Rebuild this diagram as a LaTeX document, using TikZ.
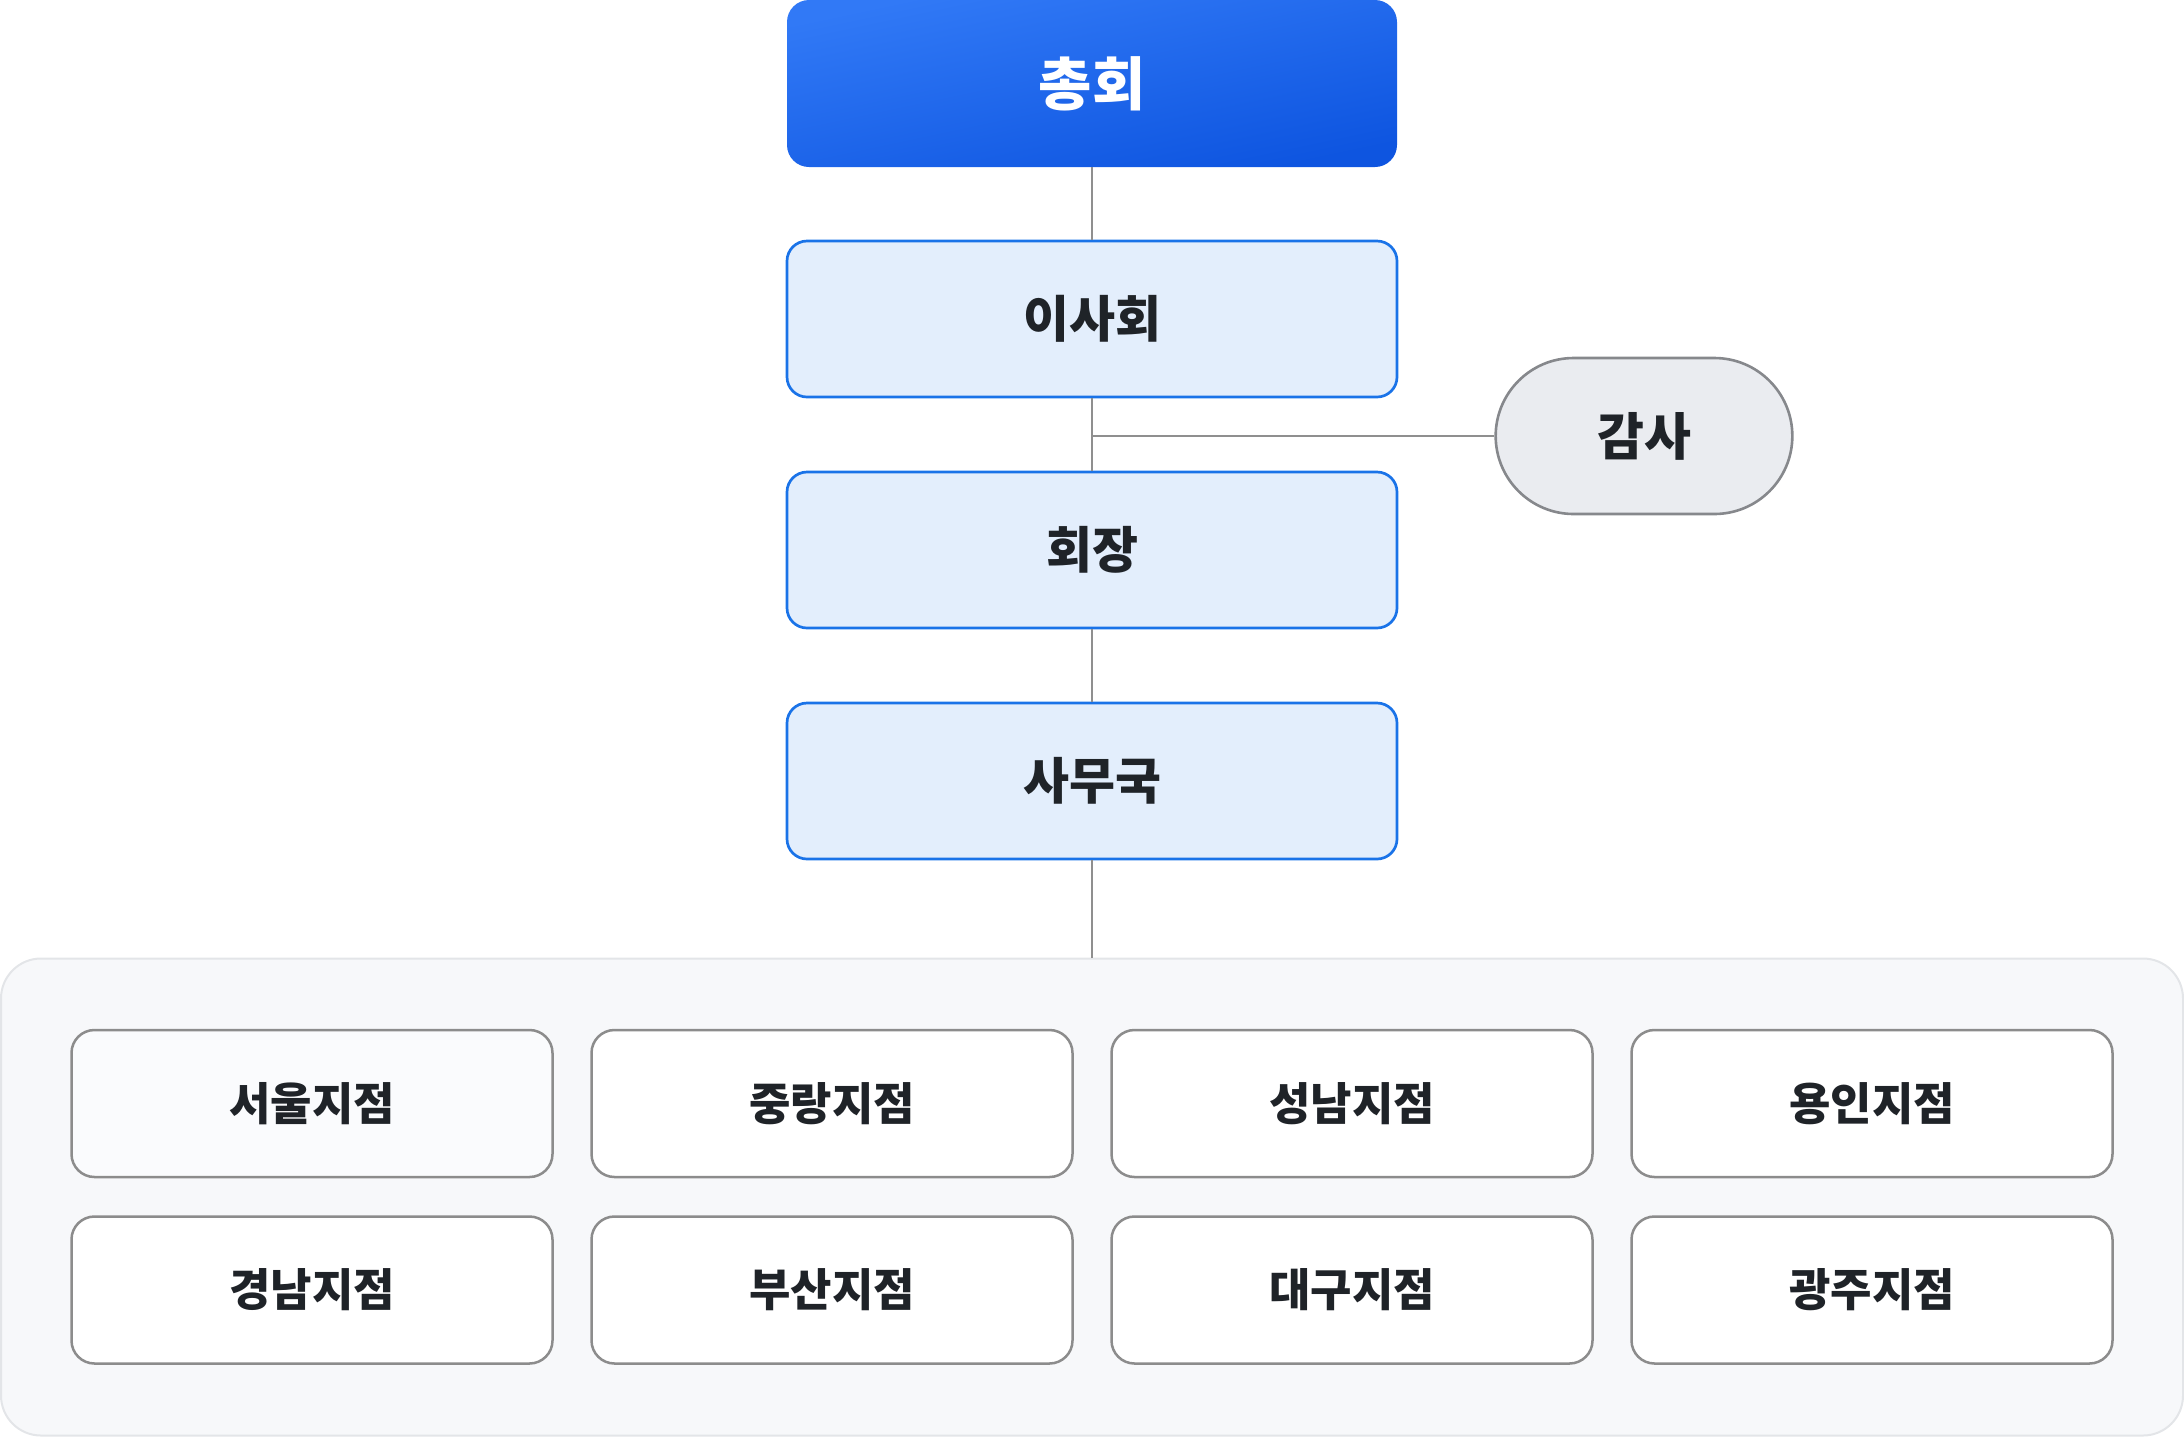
\documentclass[tikz,border=0pt]{standalone}
\usepackage{fontspec}
\setmainfont{Noto Sans CJK KR}
\usetikzlibrary{shapes.misc}

\definecolor{topblue}{HTML}{3179F6}
\definecolor{deepblue}{HTML}{0E55E0}
\definecolor{orgfill}{HTML}{E3EEFC}
\definecolor{orgline}{HTML}{1A73E8}
\definecolor{auditfill}{HTML}{EAECF0}
\definecolor{auditline}{HTML}{86888C}
\definecolor{panelfill}{HTML}{F7F8FA}
\definecolor{panelline}{HTML}{E3E5E8}
\definecolor{branchline}{HTML}{8C8C8C}
\definecolor{seoulfill}{HTML}{FAFBFD}
\definecolor{linegray}{HTML}{8F8F8F}
\definecolor{inkdark}{HTML}{1F2328}

\begin{document}
\begin{tikzpicture}[x=0.5pt, y=-0.5pt,
    topbox/.style={rectangle, rounded corners=11pt, top color=topblue,
        bottom color=deepblue, shading angle=12, minimum width=305pt,
        minimum height=83.5pt, text=white, font=\bfseries\fontsize{29}{32}\selectfont},
    orgbox/.style={rectangle, rounded corners=10pt, fill=orgfill, draw=orgline,
        line width=1.35pt, minimum width=305pt, minimum height=78pt,
        text=inkdark, font=\bfseries\fontsize{25}{28}\selectfont},
    auditbox/.style={rounded rectangle, fill=auditfill, draw=auditline,
        line width=1.3pt, minimum width=155pt, minimum height=78pt,
        text=inkdark, font=\bfseries\fontsize{25.5}{28}\selectfont},
    panel/.style={rectangle, rounded corners=20pt, fill=panelfill, draw=panelline,
        line width=1pt, minimum width=1091pt, minimum height=238.5pt},
    branchbox/.style={rectangle, rounded corners=11.5pt, draw=branchline,
        line width=1.25pt, minimum width=240.5pt, minimum height=73.5pt,
        text=inkdark, font=\bfseries\fontsize{22.5}{25}\selectfont},
    link/.style={draw=linegray, line width=1.3pt}]
    \useasboundingbox (0,0) rectangle (2184,1437);
    \node[topbox] (assembly) at (1092,83.5) {총회};
    \node[orgbox] (board) at (1092,319) {이사회};
    \node[orgbox] (chair) at (1092,550) {회장};
    \node[orgbox] (office) at (1092,781) {사무국};
    \node[auditbox] (audit) at (1644,436) {감사};
    \node[panel] (branches) at (1092,1197) {};
    \foreach[count=\i] \rowset in {{서울지점/seoulfill,중랑지점/white,성남지점/white,용인지점/white},
        {경남지점/white,부산지점/white,대구지점/white,광주지점/white}} {
        \foreach[count=\j] \bname/\bfill in \rowset {
            \node[branchbox, fill=\bfill] (br-\i-\j)
            at (312+520*\j-520, 1103.5+186.5*\i-186.5) {\bname};
        }
    }
    \draw[link] (assembly) -- (board);
    \draw[link] (board) -- (chair);
    \draw[link] (chair) -- (office);
    \draw[link] (office) -- (branches);
    \draw[link] (audit.west) -- (audit.west -| board.south);
\end{tikzpicture}
\end{document}
